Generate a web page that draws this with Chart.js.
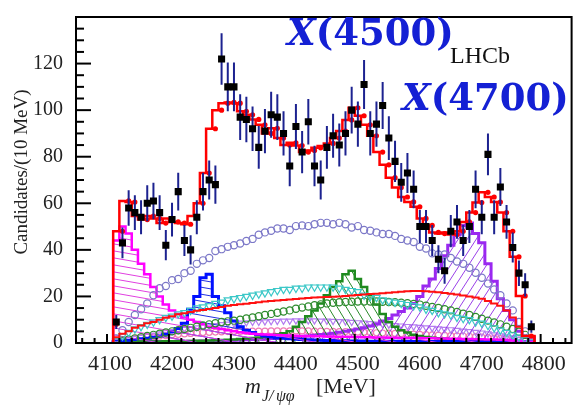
<!DOCTYPE html>
<html lang="en">
<head>
<meta charset="UTF-8" />
<title>J/psi phi mass</title>
<script src="https://cdn.jsdelivr.net/npm/chart.js"></script>
<style>
  body { margin: 0; background: #fff; }
  #wrap { width: 577px; height: 416px; }
</style>
</head>
<body>
<div id="wrap"><canvas id="myChart"></canvas></div>
<script>
// bins: 10 MeV wide, first bin 4110-4120
const binLow = 4110;
const binWidth = 10;

const candidates = [9, 43, 58, 56, 54, 60, 61, 56, 42, 53,
  65, 44, 40, 54, 65, 70, 68, 122, 110, 110,
  97, 96, 92, 84, 91, 98, 97, 90, 76, 93,
  82, 95, 76, 70, 84, 89, 85, 90, 100, 94,
  111, 90, 94, 102, 88, 78, 69, 73, 66, 50,
  50, 44, 36, 31, 48, 52, 44, 50, 66, 54,
  81, 54, 67, 52, 41, 30, 25, 7];

const fitTotal = [8, 48, 61, 60.5, 54.5, 53, 54.5, 53.5, 51.5, 53.5,
  52, 51.5, 51, 54.5, 60, 73, 92, 100, 103, 103.3,
  103, 99.5, 98, 96, 93.7, 90, 92.2, 88, 85, 86,
  84.8, 82, 82.7, 83.8, 84.6, 85.7, 88, 91, 95.8, 101,
  97.6, 93.7, 89, 82, 76.5, 71, 66.8, 62.7, 60.6, 58.5,
  53.5, 50.5, 47.5, 47, 47.5, 46.6, 48, 52, 56, 60.3,
  64.7, 62.7, 60.5, 56, 48, 37, 20.2, 3];

const x4140 = [5, 44, 50, 47, 40, 34, 29.5, 24, 20, 16.5,
  14, 12.5, 11, 10, 9, 8, 7, 6.5, 6, 5.5,
  5, 4.6, 4.3, 4, 3.8, 3.6, 3.5, 3.4, 3.3, 3.2,
  3.1, 3, 3, 2.9, 2.9, 2.8, 2.8, 2.7, 2.7, 2.6,
  2.6, 2.5, 2.5, 2.4, 2.4, 2.3, 2.3, 2.2, 2.2, 2.1,
  2.1, 2, 2, 1.9, 1.9, 1.8, 1.8, 1.7, 1.7, 1.6,
  1.6, 1.5, 1.5, 1.4, 1.3, 1.2, 1, 0.5];

const x4274 = [0.5, 0.8, 1, 1.2, 1.5, 1.8, 2, 2.5, 3, 3.8,
  4.8, 6.2, 8.5, 14.5, 20, 28, 29.5, 20, 16, 13,
  9.5, 7, 5.5, 4.5, 3.6, 3, 2.6, 2.2, 2, 1.8,
  1.6, 1.5, 1.4, 1.3, 1.2, 1.1, 1.1, 1, 1, 0.9,
  0.9, 0.9, 0.8, 0.8, 0.8, 0.7, 0.7, 0.7, 0.7, 0.6,
  0.6, 0.6, 0.6, 0.6, 0.6, 0.6, 0.6, 0.6, 0.6, 0.6,
  0.5, 0.5, 0.5, 0.5, 0.5, 0.5, 0.5, 0.5];

const x4500 = [0.3, 0.3, 0.4, 0.4, 0.5, 0.5, 0.5, 0.6, 0.6, 0.7,
  0.7, 0.8, 0.8, 0.9, 1, 1, 1.1, 1.2, 1.3, 1.4,
  1.5, 1.7, 1.9, 2.1, 2.4, 2.7, 3.1, 3.6, 4.2, 5,
  7, 9, 11.5, 14, 17, 20.5, 24, 26.5, 29.5, 31,
  27.5, 24, 20.5, 16.5, 12.5, 9, 7, 5.5, 4.5, 3.5,
  3, 2.6, 2.3, 2, 1.8, 1.6, 1.4, 1.3, 1.2, 1.1,
  1, 0.9, 0.8, 0.7, 0.6, 0.5, 0.4, 0.2];

const x4700 = [0.3, 0.3, 0.4, 0.4, 0.4, 0.5, 0.5, 0.5, 0.6, 0.6,
  0.6, 0.7, 0.7, 0.8, 0.8, 0.9, 0.9, 1, 1, 1.1,
  1.2, 1.3, 1.4, 1.5, 1.6, 1.7, 1.9, 2, 2.2, 2.4,
  2.6, 2.8, 3, 3.3, 3.6, 3.9, 4.2, 4.6, 5, 5.5,
  6, 6.6, 7.3, 8.2, 9.5, 10.5, 12, 13.5, 15, 17,
  20, 24.5, 27.5, 32, 37.5, 42, 46.5, 50.5, 51.5, 47,
  43, 34, 26.5, 19, 14, 10, 5, 2.5];

const nonResonant = [2, 5.5, 9, 12, 14.5, 17, 20.5, 23.5, 24.5, 27,
  27.5, 30, 31, 34, 35.5, 36.5, 39.5, 40.3, 41.3, 42,
  42.7, 43.8, 44.7, 46.5, 47.5, 48.2, 49.2, 49.2, 48.5, 50.2,
  50.5, 50.2, 51, 51.6, 51.6, 51, 51.6, 51, 49.6, 50.2,
  48.5, 48.2, 47.5, 46.8, 46.8, 46, 44.7, 44, 43.4, 41.3,
  40.6, 38.5, 38, 38, 36.5, 35, 34, 32.3, 30.2, 28,
  25.5, 23, 20.5, 17, 14, 9, 5, 1.5];

const cyanComp = [1, 3, 4.5, 6, 7, 8, 9, 10, 11, 11.5,
  12.5, 13, 14, 15, 15.5, 16, 17, 17.5, 18.5, 19,
  19.5, 20, 20.5, 21, 21.5, 22, 22.5, 23, 23, 23.5,
  23.5, 24, 24, 24, 24, 24, 23.5, 23, 22.5, 22,
  20.5, 20, 19.5, 18.5, 18, 17.5, 17, 16.5, 16, 15.5,
  14.5, 14, 13, 12.5, 12, 11, 10.5, 10, 9, 8.5,
  7.5, 6.5, 5.5, 4.5, 3.5, 2.5, 1.5, 0.5];

const redComp = [1, 2.5, 4, 5, 6.5, 7.5, 8.5, 9, 10, 10.8,
  11.5, 12.3, 12.8, 13.3, 13.8, 14.2, 14.6, 15, 15.5, 16,
  16.3, 16.6, 16.9, 17.2, 17.5, 17.8, 18, 18.3, 18.5, 18.7,
  18.9, 19.1, 19.3, 19.5, 19.6, 19.8, 19.9, 20, 20.2, 20.4,
  20.6, 20.8, 21, 21.2, 21.4, 21.6, 21.8, 22, 22.2, 22.3,
  22.3, 22.2, 22, 21.8, 21.5, 21.2, 20.8, 20.4, 20, 19.5,
  19, 18, 17, 16, 14, 11, 7, 3];

const greenComp = [0.5, 1, 1.5, 2, 2.5, 3, 3.5, 4, 4.5, 5,
  5.5, 6, 6.5, 7, 7.5, 8, 8.5, 9, 9.3, 9.6,
  10, 10.5, 11, 11.5, 12, 12.5, 13, 13.5, 14, 14.7,
  15.2, 15.7, 16.2, 16.6, 17, 17.3, 17.5, 17.6, 17.7, 17.8,
  17.8, 17.8, 17.8, 17.7, 17.6, 17.5, 17.3, 17.1, 16.8, 16.5,
  16, 15.5, 15, 14.5, 14, 13.3, 12.6, 12, 11.2, 10.4,
  9.6, 8.8, 8, 7, 6, 4.8, 3.5, 1.5];

const violetComp = [0.5, 1, 1.5, 2, 2.5, 3, 3.5, 4, 4.5, 5,
  5.5, 6, 6.3, 6.6, 7, 7.3, 7.6, 8, 8.2, 8.4,
  8.6, 8.8, 9, 9, 9.2, 9.3, 9.4, 9.5, 9.5, 9.6,
  9.6, 9.6, 9.6, 9.5, 9.5, 9.4, 9.3, 9.2, 9, 8.8,
  8.6, 8.4, 8.2, 8, 7.8, 7.6, 7.4, 7.2, 7, 6.8,
  6.6, 6.4, 6.2, 6, 5.8, 5.5, 5.2, 5, 4.7, 4.4,
  4, 3.6, 3.2, 2.8, 2.3, 1.8, 1.2, 0.5];

const pinkComp = [0.5, 1, 1.5, 2, 2.2, 2.5, 2.8, 3, 3.2, 3.5,
  3.7, 3.9, 4.1, 4.3, 4.5, 4.6, 4.7, 4.8, 4.9, 5,
  5, 5, 5.1, 5.1, 5.1, 5.2, 5.2, 5.2, 5.2, 5.2,
  5.2, 5.2, 5.1, 5.1, 5, 5, 4.9, 4.9, 4.8, 4.7,
  4.6, 4.5, 4.4, 4.3, 4.2, 4.1, 4, 3.9, 3.8, 3.7,
  3.6, 3.5, 3.4, 3.3, 3.2, 3.1, 3, 2.9, 2.7, 2.5,
  2.3, 2.1, 1.9, 1.7, 1.4, 1.1, 0.8, 0.3];

const xTicksMajor = [4100, 4200, 4300, 4400, 4500, 4600, 4700, 4800];

const centers = candidates.map((_, i) => binLow + binWidth * (i + 0.5));

function histPoints(vals) {
  const pts = [{ x: binLow, y: 0 }];
  vals.forEach((v, i) => pts.push({ x: binLow + i * binWidth, y: v }));
  const end = binLow + vals.length * binWidth;
  pts.push({ x: end, y: vals[vals.length - 1] });
  pts.push({ x: end, y: 0 });
  return pts;
}
function markerPoints(vals) {
  return vals.map((v, i) => ({ x: centers[i], y: v }));
}

function makeHatch(color, w, h, x0, y0, x1, y1) {
  const c = document.createElement("canvas");
  c.width = w;
  c.height = h;
  const g = c.getContext("2d");
  g.strokeStyle = color;
  g.lineWidth = 1;
  for (const dx of [-w, 0, w]) {
    for (const dy of [-h, 0, h]) {
      g.beginPath();
      g.moveTo(x0 + dx, y0 + dy);
      g.lineTo(x1 + dx, y1 + dy);
      g.stroke();
    }
  }
  return g.createPattern(c, "repeat");
}

function hist(vals, color, width, pattern) {
  return {
    data: histPoints(vals),
    stepped: "after",
    borderColor: color,
    borderWidth: width,
    backgroundColor: pattern || "transparent",
    fill: pattern ? "origin" : false,
    pointRadius: 0,
  };
}
function markers(vals, color, style, radius, rotation) {
  return {
    data: markerPoints(vals),
    showLine: false,
    pointStyle: style,
    pointRadius: radius,
    pointRotation: rotation || 0,
    pointBackgroundColor: "rgba(0,0,0,0)",
    pointBorderColor: color,
    pointBorderWidth: 1.2,
    borderColor: color,
  };
}

const datasets = [
  {
    data: markerPoints(candidates),
    showLine: false,
    pointStyle: "rect",
    pointRadius: 5,
    pointBackgroundColor: "#000",
    pointBorderWidth: 0,
    borderColor: "#000",
  },
  {
    data: markerPoints(fitTotal),
    showLine: false,
    pointStyle: "circle",
    pointRadius: 2.6,
    pointBackgroundColor: "#ff0000",
    pointBorderWidth: 0,
    borderColor: "#ff0000",
  },
  hist(fitTotal, "#ff0000", 2.5),
  hist(redComp, "#ff1010", 2),
  markers(nonResonant, "#7c78c8", "circle", 3.6),
  markers(cyanComp, "#3cc8c8", "triangle", 4.2, 180),
  markers(greenComp, "#2e8b2e", "circle", 3.6),
  hist(x4140, "#ff00ff", 2.5, makeHatch("#e040e0", 40, 7, 0, 0, 40, 7)),
  hist(x4274, "#0010ff", 3, makeHatch("#2030e0", 40, 7, 0, 0, 40, 7)),
  hist(x4500, "#1e8a1e", 2.5, makeHatch("#2a8a2a", 9, 15, 0, 0, 9, 15)),
  hist(x4700, "#9a28f0", 3, makeHatch("#9a40e8", 9, 14, 0, 14, 9, 0)),
  markers(violetComp, "#b47cf0", "triangle", 3.5, 180),
  markers(pinkComp, "#f07ab4", "circle", 3),
];

const errorBars = {
  id: "errorBars",
  beforeDatasetDraw(chart, args) {
    if (args.index !== 0) return;
    const { ctx, chartArea, scales: { x, y } } = chart;
    ctx.save();
    ctx.beginPath();
    ctx.rect(chartArea.left, chartArea.top, chartArea.right - chartArea.left, chartArea.bottom - chartArea.top);
    ctx.clip();
    ctx.strokeStyle = "#1c2290";
    ctx.lineWidth = 2;
    candidates.forEach((n, i) => {
      const px = x.getPixelForValue(centers[i]);
      const e = Math.sqrt(n);
      ctx.beginPath();
      ctx.moveTo(px, y.getPixelForValue(n - e));
      ctx.lineTo(px, y.getPixelForValue(n + e));
      ctx.stroke();
    });
    ctx.restore();
  },
};

const frame = {
  id: "frame",
  afterDraw(chart) {
    const { ctx, chartArea: a, scales: { x, y } } = chart;
    ctx.save();
    ctx.strokeStyle = "#000";
    ctx.lineWidth = 2;
    ctx.strokeRect(a.left, a.top, a.right - a.left, a.bottom - a.top);
    // y ticks, inward
    for (let v = 0; v <= 140; v += 5) {
      const py = y.getPixelForValue(v);
      const len = v % 20 === 0 ? 15 : 8;
      ctx.beginPath();
      ctx.moveTo(a.left, py);
      ctx.lineTo(a.left + len, py);
      ctx.stroke();
    }
    // x ticks, inward
    for (let v = 4060; v <= 4840; v += 20) {
      const px = x.getPixelForValue(v);
      const len = xTicksMajor.includes(v) ? 9 : 5;
      ctx.beginPath();
      ctx.moveTo(px, a.bottom);
      ctx.lineTo(px, a.bottom - len);
      ctx.stroke();
    }
    // y title
    ctx.fillStyle = "#222";
    ctx.font = "19px 'Liberation Serif'";
    ctx.translate(27, 172);
    ctx.rotate(-Math.PI / 2);
    ctx.textAlign = "center";
    ctx.textBaseline = "alphabetic";
    ctx.fillText("Candidates/(10 MeV)", 0, 0);
    ctx.setTransform(1, 0, 0, 1, 0, 0);
    // x title
    ctx.textAlign = "left";
    ctx.font = "italic 22px 'Liberation Serif'";
    ctx.fillText("m", 245, 393);
    const mw = ctx.measureText("m").width;
    ctx.font = "italic 16px 'Liberation Serif'";
    ctx.fillText("J/", 245 + mw + 1, 401);
    ctx.fillText("\u03C8\u03C6", 245 + mw + 15, 401);
    ctx.font = "22px 'Liberation Serif'";
    ctx.fillText("[MeV]", 316, 393);
    // annotations
    ctx.fillStyle = "#1420d4";
    const label = (name, x0, base) => {
      ctx.font = "italic bold 37px 'DejaVu Serif'";
      ctx.fillText("X", x0, base);
      const w = ctx.measureText("X").width;
      ctx.font = "bold 37px 'DejaVu Serif'";
      ctx.fillText("(" + name + ")", x0 + w, base);
    };
    label("4500", 287, 45);
    label("4700", 402, 110);
    ctx.fillStyle = "#111";
    ctx.font = "24px 'Liberation Serif'";
    ctx.fillText("LHCb", 450, 63);
    ctx.restore();
  },
};

new Chart(document.getElementById("myChart"), {
  type: "line",
  data: { datasets },
  options: {
    responsive: true,
    maintainAspectRatio: false,
    animation: false,
    layout: { padding: { top: 5, right: 2, left: 0, bottom: 0 } },
    elements: { line: { tension: 0 } },
    plugins: { legend: { display: false }, tooltip: { enabled: false } },
    scales: {
      x: {
        type: "linear",
        min: 4050,
        max: 4850,
        grid: { display: false },
        border: { display: false },
        afterBuildTicks: (s) => { s.ticks = xTicksMajor.map((v) => ({ value: v })); },
        ticks: {
          maxRotation: 0,
          autoSkip: false,
          padding: 0,
          labelOffset: 3,
          color: "#222",
          font: { family: "'Liberation Serif'", size: 22 },
          callback: (v) => String(v),
        },
        afterFit: (s) => { s.height = 73; },
      },
      y: {
        min: 0,
        max: 140,
        grid: { display: false },
        border: { display: false },
        ticks: {
          stepSize: 20,
          padding: 5,
          color: "#222",
          font: { family: "'Liberation Serif'", size: 20 },
          callback: (v) => (v === 140 ? "" : String(v)),
        },
        afterFit: (s) => { s.width = 76; },
      },
    },
  },
  plugins: [errorBars, frame],
});
</script>
</body>
</html>
